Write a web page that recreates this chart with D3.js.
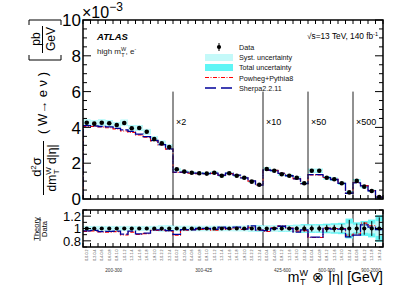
<!DOCTYPE html>
<html>
<head>
<meta charset="utf-8">
<script src="https://cdn.jsdelivr.net/npm/d3@7"></script>
<style>
  body { margin: 0; background: #fff; }
  svg { display: block; }
  text { font-family: "Liberation Sans", Arial, Helvetica, sans-serif; }
</style>
</head>
<body>
<svg id="chart" width="399" height="286"></svg>
<script>
// mT bins, multipliers and |eta| bin labels
const massBins = ['200-300', '300-425', '425-600', '600-900', '900-2000']
const scaleFactors = ['', '×2', '×10', '×50', '×500']
const massLabelPos = [4.1, 4.1, 2.6, 2.5, 2.4] // in bins from section start
const eta02 = ['0.0-0.2', '0.2-0.4', '0.4-0.6', '0.6-0.8', '0.8-1.0', '1.0-1.2',
  '1.2-1.4', '1.4-1.6', '1.6-1.8', '1.8-2.0', '2.0-2.2', '2.2-2.4']
const eta04 = ['0.0-0.4', '0.4-0.8', '0.8-1.2', '1.2-1.6', '1.6-2.0', '2.0-2.4']
const eta06 = ['0.0-0.6', '0.6-1.2', '1.2-1.8', '1.8-2.4']
const sections = [eta02, eta02, eta04, eta04, eta06]

// cross sections, 1e-3 pb/GeV (already multiplied by the factors above)
const dataValues = [
  4.26, 4.21, 4.26, 4.23, 4.13, 4.25, 3.95, 3.97, 3.76, 3.35, 3.11, 2.90,
  1.66, 1.53, 1.47, 1.44, 1.42, 1.47, 1.30, 1.44, 1.30, 1.19, 0.97, 0.80,
  1.68, 1.58, 1.38, 1.30, 1.19, 0.88,
  1.58, 1.58, 1.19, 1.10, 0.88, 0.37,
  1.01, 0.69, 0.45, 0.11
]
const sherpaValues = [
  4.10, 4.08, 4.05, 4.03, 3.95, 3.86, 3.78, 3.62, 3.48, 3.27, 3.04, 2.80,
  1.50, 1.50, 1.44, 1.44, 1.42, 1.45, 1.33, 1.44, 1.33, 1.18, 1.01, 0.78,
  1.62, 1.58, 1.43, 1.30, 1.12, 0.86,
  1.36, 1.36, 1.19, 1.09, 0.87, 0.32,
  0.90, 0.73, 0.46, 0.108
]
const powhegValues = [
  4.06, 4.05, 4.02, 3.98, 3.92, 3.80, 3.72, 3.58, 3.45, 3.25, 3.02, 2.78,
  1.48, 1.49, 1.44, 1.42, 1.41, 1.43, 1.31, 1.42, 1.31, 1.17, 0.99, 0.78,
  1.60, 1.60, 1.44, 1.31, 1.14, 0.85,
  1.35, 1.35, 1.20, 1.10, 0.88, 0.33,
  0.92, 0.75, 0.47, 0.11
]
// relative uncertainties in %
const statUnc = [
  1, 1, 1, 1, 1, 1, 1, 1, 1, 1.2, 1.2, 1.5,
  1.5, 1.5, 1.5, 1.5, 1.5, 1.5, 1.5, 1.5, 1.8, 1.8, 2, 2.5,
  2.5, 2.5, 3, 3, 3.5, 5,
  5, 5, 6, 6, 7, 14,
  8, 10, 12, 18
]
const systUnc = [
  4, 4, 4, 4, 4, 4, 4, 4, 4, 4, 4.5, 4.5,
  4, 4, 4, 4, 4, 4, 4, 4, 4, 4, 4.5, 5,
  4, 4, 4.5, 4.5, 5, 5,
  5, 5, 5, 6, 6, 8,
  6, 7, 8, 12
]

const totalUnc = statUnc.map((s, i) => Math.sqrt(s * s + systUnc[i] * systUnc[i]))
const etaLabels = sections.flat()
const nBins = etaLabels.length
const edges = []
sections.reduce((acc, s) => { edges.push(acc); return acc + s.length }, 0)

const svg = d3.select('#chart')
const left = 83, right = 383
const x = d3.scaleLinear().domain([0, nBins]).range([left, right])
const y = d3.scaleLinear().domain([0, 10]).range([199, 20])
const yr = d3.scaleLinear().domain([0.7, 1.3]).range([247, 210])

const clipMain = svg.append('clipPath').attr('id', 'cm')
clipMain.append('rect').attr('x', left).attr('y', 20).attr('width', right - left).attr('height', 179)
const clipRatio = svg.append('clipPath').attr('id', 'cr')
clipRatio.append('rect').attr('x', left).attr('y', 210).attr('width', right - left).attr('height', 37)

const bins = d3.range(nBins)

// ---------- main panel ----------
const main = svg.append('g').attr('clip-path', 'url(#cm)')

main.selectAll('.tot')
  .data(bins)
  .enter()
  .append('rect')
  .attr('x', i => x(i))
  .attr('width', x(1) - x(0))
  .attr('y', i => y(dataValues[i] * (1 + totalUnc[i] / 100)))
  .attr('height', i => y(dataValues[i] * (1 - totalUnc[i] / 100)) - y(dataValues[i] * (1 + totalUnc[i] / 100)))
  .attr('fill', '#66f5f5')
main.selectAll('.sys')
  .data(bins)
  .enter()
  .append('rect')
  .attr('x', i => x(i))
  .attr('width', x(1) - x(0))
  .attr('y', i => y(dataValues[i] * (1 + systUnc[i] / 100)))
  .attr('height', i => y(dataValues[i] * (1 - systUnc[i] / 100)) - y(dataValues[i] * (1 + systUnc[i] / 100)))
  .attr('fill', '#c4f9f9')

function stepPath(vals, sc) {
  let p = 'M' + x(0) + ',' + sc(sc === y ? 0 : vals[0])
  vals.forEach((v, i) => {
    p += 'L' + x(i) + ',' + sc(v) + 'L' + x(i + 1) + ',' + sc(v)
  })
  if (sc === y) p += 'L' + x(nBins) + ',' + y(0)
  return p
}

main.append('path')
  .attr('d', stepPath(powhegValues, y))
  .attr('fill', 'none')
  .attr('stroke', '#ff0000')
  .attr('stroke-width', 1.1)
  .attr('stroke-dasharray', '4,1.5,1,1.5')
main.append('path')
  .attr('d', stepPath(sherpaValues, y))
  .attr('fill', 'none')
  .attr('stroke', '#000099')
  .attr('stroke-width', 1.3)
  .attr('stroke-dasharray', '10,2')

main.selectAll('.err')
  .data(bins)
  .enter()
  .append('line')
  .attr('x1', i => x(i + 0.5))
  .attr('x2', i => x(i + 0.5))
  .attr('y1', i => y(dataValues[i] * (1 + statUnc[i] / 100)))
  .attr('y2', i => y(dataValues[i] * (1 - statUnc[i] / 100)))
  .attr('stroke', 'black')
main.selectAll('.dot')
  .data(bins)
  .enter()
  .append('circle')
  .attr('cx', i => x(i + 0.5))
  .attr('cy', i => y(dataValues[i]))
  .attr('r', 2.3)
  .attr('fill', 'black')

// section separators and multipliers
edges.slice(1).forEach((e, k) => {
  svg.append('line')
    .attr('x1', x(e)).attr('x2', x(e))
    .attr('y1', y(6)).attr('y2', y(0))
    .attr('stroke', '#222').attr('stroke-width', 1)
  svg.append('line')
    .attr('x1', x(e)).attr('x2', x(e))
    .attr('y1', yr(1.3)).attr('y2', yr(0.7))
    .attr('stroke', '#222').attr('stroke-width', 1)
  svg.append('text')
    .text(scaleFactors[k + 1])
    .attr('x', x(e) + 3)
    .attr('y', y(4.15))
    .attr('font-size', 9)
})

// ---------- ratio panel ----------
const ratio = svg.append('g').attr('clip-path', 'url(#cr)')
ratio.selectAll('.rtot')
  .data(bins)
  .enter()
  .append('rect')
  .attr('x', i => x(i))
  .attr('width', x(1) - x(0))
  .attr('y', i => yr(1 + totalUnc[i] / 100))
  .attr('height', i => yr(1 - totalUnc[i] / 100) - yr(1 + totalUnc[i] / 100))
  .attr('fill', '#66f5f5')
ratio.selectAll('.rsys')
  .data(bins)
  .enter()
  .append('rect')
  .attr('x', i => x(i))
  .attr('width', x(1) - x(0))
  .attr('y', i => yr(1 + systUnc[i] / 100))
  .attr('height', i => yr(1 - systUnc[i] / 100) - yr(1 + systUnc[i] / 100))
  .attr('fill', '#c4f9f9')
ratio.append('path')
  .attr('d', stepPath(powhegValues.map((v, i) => v / dataValues[i]), yr))
  .attr('fill', 'none')
  .attr('stroke', '#ff0000')
  .attr('stroke-width', 1.1)
  .attr('stroke-dasharray', '4,1.5,1,1.5')
ratio.append('path')
  .attr('d', stepPath(sherpaValues.map((v, i) => v / dataValues[i]), yr))
  .attr('fill', 'none')
  .attr('stroke', '#000099')
  .attr('stroke-width', 1.3)
  .attr('stroke-dasharray', '10,2')
ratio.selectAll('.rerr')
  .data(bins)
  .enter()
  .append('line')
  .attr('x1', i => x(i + 0.5))
  .attr('x2', i => x(i + 0.5))
  .attr('y1', i => yr(1 + statUnc[i] / 100))
  .attr('y2', i => yr(1 - statUnc[i] / 100))
  .attr('stroke', 'black')
ratio.selectAll('.rdot')
  .data(bins)
  .enter()
  .append('circle')
  .attr('cx', i => x(i + 0.5))
  .attr('cy', yr(1))
  .attr('r', 2.1)
  .attr('fill', 'black')

// ---------- frames and ticks ----------
function frame(sc, y0, y1, major, minor, labels, fs) {
  const f = svg.append('g')
  f.append('rect')
    .attr('x', left).attr('y', y1)
    .attr('width', right - left).attr('height', y0 - y1)
    .attr('fill', 'none').attr('stroke', 'black').attr('stroke-width', 1.5)
  d3.range(nBins + 1).forEach(i => {
    f.append('line').attr('x1', x(i)).attr('x2', x(i)).attr('y1', y0).attr('y2', y0 - 4).attr('stroke', 'black')
    f.append('line').attr('x1', x(i)).attr('x2', x(i)).attr('y1', y1).attr('y2', y1 + 4).attr('stroke', 'black')
  })
  minor.forEach(v => {
    const isMajor = major.some(m => Math.abs(m - v) < 1e-6)
    const len = isMajor ? 8 : 4
    f.append('line').attr('x1', left).attr('x2', left + len).attr('y1', sc(v)).attr('y2', sc(v)).attr('stroke', 'black')
    f.append('line').attr('x1', right).attr('x2', right - len).attr('y1', sc(v)).attr('y2', sc(v)).attr('stroke', 'black')
  })
  major.forEach((v, k) => {
    f.append('text')
      .text(labels[k])
      .attr('x', left - 2)
      .attr('y', sc(v))
      .attr('dy', '0.36em')
      .attr('text-anchor', 'end')
      .attr('font-size', fs)
  })
}
frame(y, 199, 20, [0, 2, 4, 6, 8, 10], d3.range(0, 10.01, 0.5), ['0', '2', '4', '6', '8', '10'], 17)
frame(yr, 247, 210, [0.8, 1.0, 1.2], d3.range(0.7, 1.31, 0.1), ['0.8', '1', '1.2'], 13)

// ×10^-3
const expo = svg.append('text').attr('x', left - 1).attr('y', 18).attr('font-size', 16)
expo.append('tspan').text('×10')
expo.append('tspan').text('−3').attr('font-size', 12).attr('dy', -7)

// eta labels and mass labels
svg.selectAll('.eta')
  .data(bins)
  .enter()
  .append('text')
  .text(i => etaLabels[i])
  .attr('transform', i => 'translate(' + (x(i + 0.5) + 1.4) + ',249.5) rotate(-90)')
  .attr('text-anchor', 'end')
  .attr('font-size', 3.6)
  .attr('fill', '#444')
massBins.forEach((m, k) => {
  svg.append('text')
    .text(m)
    .attr('x', x(edges[k] + massLabelPos[k]))
    .attr('y', 271.5)
    .attr('text-anchor', 'middle')
    .attr('font-size', 4.6)
    .attr('fill', '#333')
})

// x title
const xt = svg.append('text').attr('x', right).attr('y', 282).attr('text-anchor', 'end').attr('font-size', 14)
xt.append('tspan').text('m')
xt.append('tspan').text('W').attr('font-size', 9).attr('dy', -6)
xt.append('tspan').text('T').attr('font-size', 9).attr('dx', -8).attr('dy', 9)
xt.append('tspan').text(' ⊗ |η| [GeV]').attr('dx', 3).attr('dy', -3)

// y titles
function rotText(px, py, fs) {
  return svg.append('text')
    .attr('transform', 'translate(' + px + ',' + py + ') rotate(-90)')
    .attr('text-anchor', 'middle')
    .attr('font-size', fs)
}
const num = rotText(41, 167, 13)
num.append('tspan').text('d')
num.append('tspan').text('2').attr('font-size', 8).attr('dy', -5)
num.append('tspan').text('σ').attr('dy', 5)
svg.append('line').attr('x1', 43.5).attr('x2', 43.5).attr('y1', 141).attr('y2', 195).attr('stroke', 'black')
const den = rotText(56, 168, 12)
den.append('tspan').text('dm')
den.append('tspan').text('W').attr('font-size', 8).attr('dy', -5)
den.append('tspan').text('T').attr('font-size', 8).attr('dx', -7).attr('dy', 8)
den.append('tspan').text(' d|η|').attr('dx', 2).attr('dy', -3)
rotText(47, 103, 13).text('( W→ e ν )')
svg.append('path').attr('d', 'M29,55L29,60L61,60L61,55M29,25L29,20L61,20L61,25').attr('fill', 'none').attr('stroke', 'black')
rotText(39.5, 39, 12).text('pb')
svg.append('line').attr('x1', 42.5).attr('x2', 42.5).attr('y1', 26).attr('y2', 53).attr('stroke', 'black')
rotText(55, 39, 12).text('GeV')

rotText(38.5, 229, 7.5).text('Theory')
svg.append('line').attr('x1', 40).attr('x2', 40).attr('y1', 217).attr('y2', 241).attr('stroke', 'black').attr('stroke-width', 0.7)
rotText(46.5, 229, 7.5).text('Data')

// ATLAS labels
svg.append('text').text('ATLAS').attr('x', 97).attr('y', 40).attr('font-size', 9.5)
  .attr('font-weight', 'bold').attr('font-style', 'italic')
const hl = svg.append('text').attr('x', 97).attr('y', 54).attr('font-size', 8).attr('fill', '#222')
hl.append('tspan').text('high m')
hl.append('tspan').text('W').attr('font-size', 5.5).attr('dy', -3.5)
hl.append('tspan').text('T').attr('font-size', 5.5).attr('dx', -5).attr('dy', 6)
hl.append('tspan').text(', e').attr('dx', 1).attr('dy', -2.5)
hl.append('tspan').text('-').attr('font-size', 5).attr('dy', -3)

const sq = svg.append('text').attr('x', 378).attr('y', 39).attr('text-anchor', 'end').attr('font-size', 8.3)
sq.append('tspan').text('√s=13 TeV, 140 fb')
sq.append('tspan').text('-1').attr('font-size', 5.5).attr('dy', -3.5)

// legend
const lg = svg.append('g').attr('font-size', 7.2)
lg.append('line').attr('x1', 219).attr('x2', 219).attr('y1', 43).attr('y2', 51).attr('stroke', 'black')
lg.append('circle').attr('cx', 219).attr('cy', 47).attr('r', 2.1)
lg.append('rect').attr('x', 205).attr('y', 54).attr('width', 28).attr('height', 7).attr('fill', '#c4f9f9')
lg.append('rect').attr('x', 205).attr('y', 64).attr('width', 28).attr('height', 7).attr('fill', '#5ff5f5')
lg.append('line').attr('x1', 205).attr('x2', 233).attr('y1', 77.5).attr('y2', 77.5)
  .attr('stroke', '#ff0000').attr('stroke-width', 1.2).attr('stroke-dasharray', '4,1.5,1,1.5')
lg.append('line').attr('x1', 205).attr('x2', 233).attr('y1', 88).attr('y2', 88)
  .attr('stroke', '#000099').attr('stroke-width', 1.3).attr('stroke-dasharray', '11,5')
const legendLabels = ['Data', 'Syst. uncertainty', 'Total uncertainty', 'Powheg+Pythia8', 'Sherpa2.2.11']
legendLabels.forEach((t, k) => {
  lg.append('text').text(t).attr('x', 239).attr('y', 50 + k * 10.2).attr('fill', '#111')
})
</script>
</body>
</html>
